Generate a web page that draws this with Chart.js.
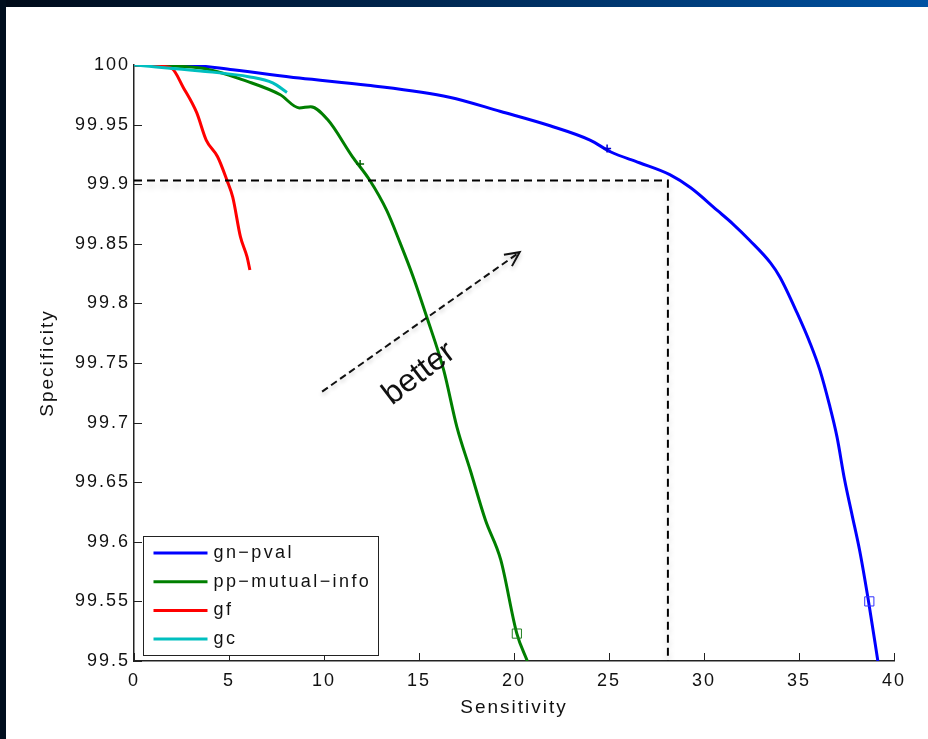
<!DOCTYPE html>
<html>
<head>
<meta charset="utf-8">
<title>Sensitivity vs Specificity</title>
<script src="https://cdn.jsdelivr.net/npm/chart.js@4.4.1/dist/chart.umd.min.js"></script>
<style>
  html, body { margin: 0; padding: 0; background: #fff; }
  #wrap { position: relative; width: 928px; height: 739px; overflow: hidden; background: #fff; }
  #topbar { position: absolute; left: 0; top: 0; width: 928px; height: 7px;
    background: linear-gradient(to right, #000a18, #00264f 45%, #0052a3); }
  #leftbar { position: absolute; left: 0; top: 0; width: 6px; height: 739px; background: #000e1e; }
  canvas { position: absolute; left: 0; top: 0; }
</style>
</head>
<body>
<div id="wrap">
  <canvas id="rocChart" width="928" height="739"></canvas>
  <div id="topbar"></div>
  <div id="leftbar"></div>
</div>
<script>
// series data (sensitivity %, specificity %)
const seriesNames = ['gn\u2212pval', 'pp\u2212mutual\u2212info', 'gf', 'gc'];

const gnX = [0, 2.6, 5.2, 8.7, 12.3, 16.6, 19.3, 21.9, 24.0, 25.1, 26.6, 28.2, 29.3, 30.7, 31.5, 32.4, 33.5, 34.0, 34.9, 35.6, 36.1, 36.6, 37.0, 37.4, 37.8, 38.2, 38.7, 39.15];
const gnY = [100, 100, 99.996, 99.989, 99.983, 99.973, 99.961, 99.949, 99.937, 99.927, 99.918, 99.908, 99.897, 99.878, 99.867, 99.853, 99.834, 99.822, 99.792, 99.766, 99.744, 99.715, 99.688, 99.652, 99.622, 99.592, 99.546, 99.5];

const ppX = [0, 3.5, 6.0, 7.7, 8.7, 9.3, 10.2, 11.5, 12.4, 13.3, 14.0, 14.7, 15.4, 16.3, 17.0, 17.7, 18.5, 19.3, 20.15, 20.7];
const ppY = [100, 99.9975, 99.986, 99.975, 99.964, 99.965, 99.954, 99.923, 99.9035, 99.878, 99.851, 99.822, 99.789, 99.744, 99.696, 99.660, 99.618, 99.585, 99.523, 99.5];

const gfX = [0, 0.8, 1.4, 2.0, 2.6, 3.3, 3.8, 4.4, 4.9, 5.2, 5.6, 5.95, 6.1];
const gfY = [100, 100, 99.999, 99.997, 99.981, 99.960, 99.937, 99.923, 99.903, 99.889, 99.856, 99.839, 99.828];

const gcX = [0, 3.5, 6.1, 7.3, 8.05];
const gcY = [100, 99.995, 99.990, 99.985, 99.977];

// square and cross markers on the curves
const markX = [38.7, 20.15];
const markY = [99.55, 99.523];
const crossX = [24.9, 11.9];
const crossY = [99.930, 99.917];

// dashed guide at 99.9 specificity
const guideX = [0, 28.1, 28.1];
const guideY = [99.903, 99.903, 99.5];

// "better" arrow, in data units
const arrowFrom = [9.9, 99.726];
const arrowTo = [20.3, 99.843];
const arrowText = 'better';
const arrowTextAt = [15.0, 99.741];

const xTicks = [0, 5, 10, 15, 20, 25, 30, 35, 40];

const colors = ['#0000ff', '#007f00', '#ff0000', '#00bfbf'];
const FONT = '"Liberation Sans", Arial, sans-serif';

function pts(xs, ys) {
    return xs.map((v, i) => ({ x: v, y: ys[i] }));
}

const curves = [[gnX, gnY], [ppX, ppY], [gfX, gfY], [gcX, gcY]];

const datasets = curves.map((c, i) => ({
    label: seriesNames[i],
    data: pts(c[0], c[1]),
    borderColor: colors[i],
    borderWidth: 3,
    pointRadius: 0,
    cubicInterpolationMode: 'monotone',
    order: 10 - i,
    inLegend: true
}));

datasets.push({
    label: 'marks',
    data: pts(markX, markY),
    showLine: false,
    pointStyle: 'rect',
    pointRadius: 6.5,
    borderWidth: 1,
    borderColor: ['#3030ff', '#208020'],
    backgroundColor: 'rgba(0,0,0,0)',
    order: 0
});

datasets.push({
    label: 'cross',
    data: pts(crossX, crossY),
    showLine: false,
    pointStyle: 'cross',
    pointRadius: 4,
    borderWidth: 1.5,
    borderColor: ['#0000cc', '#006000'],
    order: 0
});

datasets.push({
    label: 'guide',
    data: pts(guideX, guideY),
    borderColor: '#000',
    borderWidth: 2,
    borderDash: [8, 5],
    pointRadius: 0,
    order: -1,
    shadow: true
});

// wider letter spacing like the original's text
const spacing = {
    id: 'spacing',
    beforeDraw(chart) {
        chart.ctx.letterSpacing = '2px';
    }
};

// soft grey shadow under the dashed guide
const guideShadow = {
    id: 'guideShadow',
    beforeDatasetDraw(chart, args) {
        if (!chart.data.datasets[args.index].shadow) return;
        const c = chart.ctx;
        c.save();
        c.shadowColor = 'rgba(0,0,0,0.22)';
        c.shadowBlur = 6;
        c.shadowOffsetY = 5;
    },
    afterDatasetDraw(chart, args) {
        if (!chart.data.datasets[args.index].shadow) return;
        chart.ctx.restore();
    }
};

// ticks pointing into the plot, like the original
const innerTicks = {
    id: 'innerTicks',
    beforeDatasetsDraw(chart) {
        const { ctx, chartArea: a, scales: { x, y } } = chart;
        ctx.save();
        ctx.strokeStyle = '#222';
        ctx.lineWidth = 1;
        ctx.beginPath();
        x.ticks.forEach(t => {
            const px = Math.round(x.getPixelForValue(t.value)) + 0.5;
            ctx.moveTo(px, a.bottom);
            ctx.lineTo(px, a.bottom - 8);
        });
        y.ticks.forEach(t => {
            const py = Math.round(y.getPixelForValue(t.value)) + 0.5;
            ctx.moveTo(a.left, py);
            ctx.lineTo(a.left + 8, py);
        });
        ctx.stroke();
        ctx.restore();
    }
};

const betterArrow = {
    id: 'betterArrow',
    afterDatasetsDraw(chart) {
        const { ctx, scales: { x, y } } = chart;
        const x0 = x.getPixelForValue(arrowFrom[0]), y0 = y.getPixelForValue(arrowFrom[1]);
        const x1 = x.getPixelForValue(arrowTo[0]), y1 = y.getPixelForValue(arrowTo[1]);
        const ang = Math.atan2(y1 - y0, x1 - x0);
        ctx.save();
        ctx.strokeStyle = '#111';
        ctx.lineWidth = 2;
        ctx.shadowColor = 'rgba(0,0,0,0.2)';
        ctx.shadowBlur = 4;
        ctx.shadowOffsetY = 3;
        ctx.setLineDash([7, 4]);
        ctx.beginPath();
        ctx.moveTo(x0, y0);
        ctx.lineTo(x1, y1);
        ctx.stroke();
        ctx.setLineDash([]);
        ctx.beginPath();
        ctx.moveTo(x1 - 16 * Math.cos(ang - 0.45), y1 - 16 * Math.sin(ang - 0.45));
        ctx.lineTo(x1, y1);
        ctx.lineTo(x1 - 16 * Math.cos(ang + 0.45), y1 - 16 * Math.sin(ang + 0.45));
        ctx.stroke();

        const tx = x.getPixelForValue(arrowTextAt[0]), ty = y.getPixelForValue(arrowTextAt[1]);
        ctx.shadowColor = 'rgba(0,0,0,0)';
        ctx.translate(tx, ty);
        ctx.rotate(ang - 0.04);
        ctx.letterSpacing = '0px';
        ctx.fillStyle = '#111';
        ctx.font = '32px ' + FONT;
        ctx.textAlign = 'center';
        ctx.textBaseline = 'middle';
        ctx.fillText(arrowText, 0, 0);
        ctx.restore();
    }
};

// legend box in the lower left corner of the axes
const boxLegend = {
    id: 'boxLegend',
    afterDraw(chart) {
        const { ctx, chartArea: a } = chart;
        const bx = a.left + 9.5, by = a.bottom - 124.5, bw = 235, bh = 119;
        ctx.save();
        ctx.fillStyle = '#fff';
        ctx.fillRect(bx, by, bw, bh);
        ctx.strokeStyle = '#222';
        ctx.lineWidth = 1;
        ctx.strokeRect(bx, by, bw, bh);
        ctx.font = '18px ' + FONT;
        ctx.letterSpacing = '2.4px';
        ctx.textBaseline = 'middle';
        chart.data.datasets.filter(d => d.inLegend).forEach((d, i) => {
            const ry = by + 16.5 + i * 28.7;
            ctx.strokeStyle = d.borderColor;
            ctx.lineWidth = 3;
            ctx.beginPath();
            ctx.moveTo(bx + 10, ry);
            ctx.lineTo(bx + 64, ry);
            ctx.stroke();
            ctx.fillStyle = '#111';
            ctx.fillText(d.label, bx + 70, ry);
        });
        ctx.restore();
    }
};

const ctx = document.getElementById('rocChart').getContext('2d');

new Chart(ctx, {
    type: 'line',
    data: { datasets: datasets },
    options: {
        responsive: false,
        devicePixelRatio: 1,
        animation: false,
        layout: { padding: { top: 65, right: 34, left: 0, bottom: 0 } },
        plugins: {
            legend: { display: false },
            tooltip: { enabled: false }
        },
        scales: {
            x: {
                type: 'linear',
                min: 0,
                max: 40,
                afterFit: s => { s.height = 78; },
                afterBuildTicks: s => { s.ticks = xTicks.map(v => ({ value: v })); },
                grid: { drawOnChartArea: false, drawTicks: false },
                border: { display: true, color: '#222', width: 1.5 },
                ticks: {
                    color: '#111',
                    padding: 9,
                    maxRotation: 0,
                    font: { family: FONT, size: 18 }
                },
                title: {
                    display: true,
                    text: 'Sensitivity',
                    color: '#111',
                    padding: { top: 0, bottom: 20 },
                    font: { family: FONT, size: 19 }
                }
            },
            y: {
                type: 'linear',
                min: 99.5,
                max: 100,
                afterFit: s => { s.width = 134; },
                grid: { drawOnChartArea: false, drawTicks: false },
                border: { display: true, color: '#222', width: 1.5 },
                ticks: {
                    stepSize: 0.05,
                    color: '#111',
                    padding: 4,
                    font: { family: FONT, size: 18 },
                    callback: v => String(Number(v.toFixed(2)))
                },
                title: {
                    display: true,
                    text: 'Specificity',
                    color: '#111',
                    padding: { top: 36, bottom: 0 },
                    font: { family: FONT, size: 19 }
                }
            }
        }
    },
    plugins: [spacing, guideShadow, innerTicks, betterArrow, boxLegend]
});
</script>
</body>
</html>
